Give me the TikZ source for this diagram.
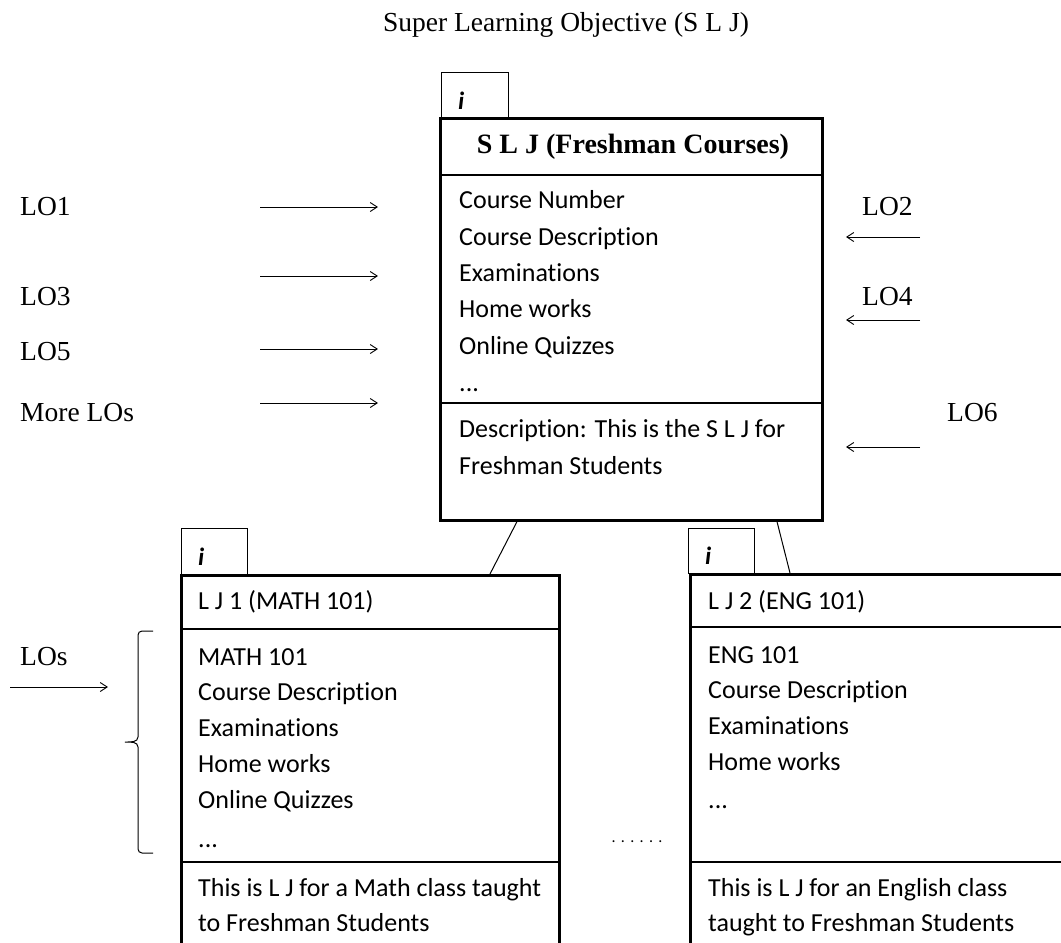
\documentclass[tikz,border=0pt]{standalone}
\usepackage{fontspec}
\setmainfont[Ligatures=NoCommon]{Carlito}
\newfontfamily\serifface{Liberation Serif}
\usetikzlibrary{calc,arrows.meta}
\begin{document}
\begin{tikzpicture}[x=1pt,y=-1pt,
  item/.style={anchor=base west, inner sep=0pt, font=\fontsize{26}{30}\selectfont},
  lo/.style={anchor=base west, inner sep=0pt, font=\serifface\fontsize{27.5}{30}\selectfont},
  bigbox/.style={draw, line width=2.6pt, anchor=north west, inner sep=0pt, fill=white},
  tabbox/.style={draw, line width=1pt, anchor=north west, inner sep=0pt, minimum width=67pt, minimum height=45pt, fill=white},
  ital/.style={anchor=base west, inner sep=0pt, font=\bfseries\itshape\fontsize{25}{28}\selectfont},
  arr/.style={-{Straight Barb[length=7pt,width=9pt]}, line width=0.9pt},
  divider/.style={line width=1.3pt},
  thickdiv/.style={line width=2.4pt},
]
\useasboundingbox (0,0) rectangle (1061,943);

% title
\node[font=\serifface\fontsize{27.5}{30}\selectfont, inner sep=0pt] (suptitle) at (566,25) {Super Learning Objective (S L J)};

% ---------- SLJ box ----------
\node[tabbox] (sljtab) at (441,72) {};
\node[ital] (slji) at (458,109) {i};
\node[bigbox, minimum width=382pt, minimum height=402pt] (slj) at (439,117) {};
\node[font=\serifface\bfseries\fontsize{28}{30}\selectfont, inner sep=0pt] (sljtitle) at (633,147) {S L J (Freshman Courses)};
\draw[divider] (slj.west |- 0,175) -- (slj.east |- 0,175);
\draw[divider] (slj.west |- 0,403) -- (slj.east |- 0,403);
\node[item] (s1) at (459,208) {Course Number};
\node[item] (s2) at (459,245) {Course Description};
\node[item] (s3) at (459,281) {Examinations};
\node[item] (s4) at (459,317) {Home works};
\node[item] (s5) at (459,354) {Online Quizzes};
\node[item] (s6) at (459,391) {...};
\node[item] (s7) at (459,437) {Description: This is the S L J for};
\node[item] (s8) at (459,474) {Freshman Students};

% ---------- left LO labels and arrows ----------
\node[lo] (lo1) at (20,215) {LO1};
\node[lo] (lo3) at (20,305) {LO3};
\node[lo] (lo5) at (20,360) {LO5};
\node[lo] (lom) at (20,421) {More LOs};
\coordinate (a1s) at (260,207); \coordinate (a1e) at (378,207);
\coordinate (a3s) at (260,276); \coordinate (a3e) at (378,276);
\coordinate (a5s) at (260,349); \coordinate (a5e) at (378,349);
\coordinate (ams) at (260,403); \coordinate (ame) at (378,403);
\draw[arr] (a1s) -- (a1e);
\draw[arr] (a3s) -- (a3e);
\draw[arr] (a5s) -- (a5e);
\draw[arr] (ams) -- (ame);

% ---------- right LO labels and arrows ----------
\node[lo] (lo2) at (862,215) {LO2};
\node[lo] (lo4) at (862,305) {LO4};
\node[lo] (lo6) at (947,421) {LO6};
\coordinate (a2s) at (920,237); \coordinate (a2e) at (846,237);
\coordinate (a4s) at (920,320); \coordinate (a4e) at (846,320);
\coordinate (a6s) at (920,447); \coordinate (a6e) at (846,447);
\draw[arr] (a2s) -- (a2e);
\draw[arr] (a4s) -- (a4e);
\draw[arr] (a6s) -- (a6e);

% ---------- LJ1 box ----------
\node[tabbox, minimum width=66pt, minimum height=46pt] (lj1tab) at (181,528) {};
\node[ital] (lj1i) at (198,565) {i};
\node[bigbox, minimum width=378pt, minimum height=420pt] (lj1) at (180,574) {};
\node[item] (m0) at (198,609) {L J 1 (MATH 101)};
\draw[thickdiv] (lj1.west |- 0,629) -- (lj1.east |- 0,629);
\node[item] (m1) at (198,665) {MATH 101};
\node[item] (m2) at (198,700) {Course Description};
\node[item] (m3) at (198,736) {Examinations};
\node[item] (m4) at (198,772) {Home works};
\node[item] (m5) at (198,808) {Online Quizzes};
\node[item] (m6) at (198,847) {...};
\draw[divider] (lj1.west |- 0,862) -- (lj1.east |- 0,862);
\node[item] (m7) at (198,896) {This is L J for a Math class taught};
\node[item] (m8) at (198,931) {to Freshman Students};

% ---------- LJ2 box ----------
\node[tabbox, minimum width=66pt, minimum height=45pt] (lj2tab) at (688,528) {};
\node[ital] (lj2i) at (705,564) {i};
\node[bigbox, minimum width=420pt, minimum height=420pt] (lj2) at (689,573) {};
\node[item] (e0) at (708,609) {L J 2 (ENG 101)};
\draw[divider] (lj2.west |- 0,627) -- (lj2.east |- 0,627);
\node[item] (e1) at (708,663) {ENG 101};
\node[item] (e2) at (708,698) {Course Description};
\node[item] (e3) at (708,734) {Examinations};
\node[item] (e4) at (708,770) {Home works};
\node[item] (e5) at (708,808) {...};
\draw[divider] (lj2.west |- 0,862) -- (lj2.east |- 0,862);
\node[item] (e7) at (708,896) {This is L J for an English class};
\node[item] (e8) at (708,931) {taught to Freshman Students};

% ---------- connectors ----------
\draw[line width=1pt] ($(slj.south west)+(78,0)$) -- ($(lj1.north west)+(310,0)$);
\draw[line width=1pt] ($(slj.south west)+(338,0)$) -- ($(lj2.north west)+(101,0)$);

% ---------- LOs with brace ----------
\node[lo] (los) at (20,665) {LOs};
\coordinate (losa) at (10,687); \coordinate (lose) at (108,687);
\draw[arr] (losa) -- (lose);
\coordinate (brtop) at (153,631);
\coordinate (brbot) at (153,853);
\coordinate (brtip) at (125,742);
\draw[line width=1pt] (brtop) -- (142,631) to[out=180,in=90] (138,635) -- (138,737)
  to[out=270,in=0] (brtip) to[out=0,in=90] (138,747) -- (138,849)
  to[out=270,in=180] (142,853) -- (brbot);

% dots
\node[inner sep=0pt, font=\fontsize{16}{18}\selectfont] (dots) at (637,842) {.\,\,.\,\,.\,\,.\,\,.\,\,.};
\end{tikzpicture}
\end{document}
